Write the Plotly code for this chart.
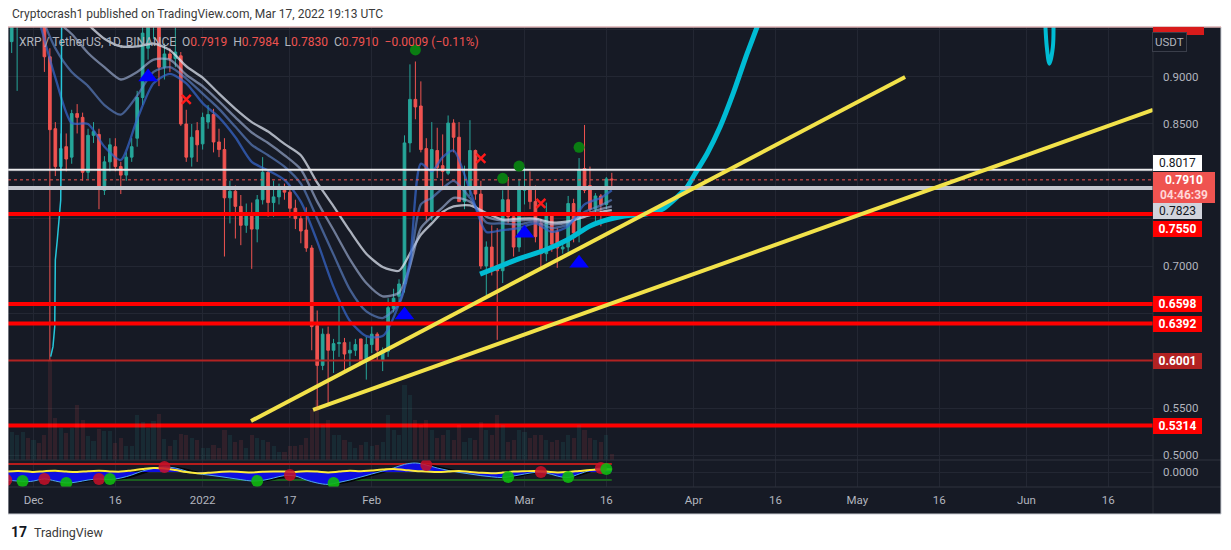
import pandas as pd
import plotly.graph_objects as go

start = pd.Timestamp("2021-12-01")

# XRP / TetherUS 1D Binance, candles by day offset from Dec 1 2021 (Nov 27 .. Mar 17)
candle_day = list(range(-4, 107))
opens = [0.937, 0.955, 0.990, 1.000, 0.975, 1.000, 0.985, 0.921, 0.845, 0.805, 0.826, 0.815, 0.861, 0.857, 0.799,
         0.838, 0.839, 0.780, 0.810, 0.826, 0.805, 0.796, 0.815, 0.835, 0.878, 0.930, 0.955, 0.990, 0.910, 0.924,
         0.919, 0.922, 0.850, 0.815, 0.843, 0.829, 0.852, 0.860, 0.831, 0.823, 0.772, 0.779, 0.763, 0.743, 0.753,
         0.739, 0.770, 0.799, 0.767, 0.773, 0.780, 0.778, 0.761, 0.750, 0.738, 0.719, 0.637, 0.595, 0.628, 0.611,
         0.618, 0.619, 0.608, 0.611, 0.623, 0.599, 0.617, 0.628, 0.600, 0.610, 0.655, 0.668, 0.681, 0.830, 0.876,
         0.869, 0.824, 0.757, 0.822, 0.806, 0.798, 0.851, 0.836, 0.768, 0.784, 0.822, 0.776, 0.700, 0.720, 0.700,
         0.695, 0.770, 0.752, 0.720, 0.780, 0.784, 0.768, 0.745, 0.713, 0.754, 0.736, 0.718, 0.720, 0.766, 0.735,
         0.803, 0.785, 0.760, 0.774, 0.765, 0.7919]
highs = [1.000, 1.000, 1.030, 1.020, 1.040, 1.010, 0.995, 0.930, 0.852, 0.840, 0.840, 0.865, 0.871, 0.862, 0.845,
         0.852, 0.845, 0.816, 0.835, 0.835, 0.810, 0.820, 0.835, 0.885, 0.953, 0.990, 1.000, 1.000, 0.935, 0.930,
         0.952, 0.926, 0.865, 0.850, 0.852, 0.862, 0.870, 0.866, 0.845, 0.835, 0.790, 0.785, 0.775, 0.766, 0.767,
         0.775, 0.815, 0.802, 0.790, 0.787, 0.787, 0.785, 0.770, 0.757, 0.762, 0.722, 0.653, 0.634, 0.636, 0.623,
         0.658, 0.624, 0.620, 0.623, 0.623, 0.625, 0.636, 0.630, 0.614, 0.666, 0.676, 0.686, 0.838, 0.913, 0.916,
         0.895, 0.835, 0.852, 0.846, 0.839, 0.859, 0.855, 0.852, 0.806, 0.854, 0.823, 0.790, 0.726, 0.743, 0.740,
         0.780, 0.794, 0.755, 0.792, 0.804, 0.800, 0.785, 0.750, 0.767, 0.755, 0.740, 0.725, 0.774, 0.771, 0.814,
         0.849, 0.805, 0.777, 0.776, 0.794, 0.7984]
lows = [0.925, 0.885, 0.965, 0.960, 0.965, 0.955, 0.905, 0.600, 0.795, 0.790, 0.800, 0.808, 0.840, 0.790, 0.792,
        0.830, 0.760, 0.775, 0.800, 0.800, 0.776, 0.790, 0.810, 0.826, 0.870, 0.918, 0.940, 0.890, 0.897, 0.905,
        0.910, 0.848, 0.810, 0.805, 0.810, 0.823, 0.845, 0.820, 0.815, 0.710, 0.745, 0.729, 0.722, 0.735, 0.697,
        0.725, 0.765, 0.752, 0.752, 0.765, 0.770, 0.751, 0.739, 0.724, 0.715, 0.611, 0.551, 0.590, 0.553, 0.587,
        0.604, 0.590, 0.594, 0.605, 0.597, 0.580, 0.608, 0.600, 0.589, 0.604, 0.651, 0.661, 0.672, 0.820, 0.855,
        0.820, 0.748, 0.748, 0.793, 0.780, 0.796, 0.820, 0.768, 0.760, 0.774, 0.770, 0.697, 0.669, 0.690, 0.622,
        0.682, 0.745, 0.710, 0.715, 0.765, 0.760, 0.725, 0.696, 0.705, 0.715, 0.698, 0.713, 0.715, 0.725, 0.725,
        0.777, 0.755, 0.745, 0.742, 0.760, 0.7830]
closes = [0.985, 0.990, 1.000, 0.975, 1.000, 0.985, 0.921, 0.844, 0.805, 0.824, 0.813, 0.861, 0.857, 0.799, 0.838,
          0.842, 0.782, 0.810, 0.828, 0.805, 0.796, 0.815, 0.826, 0.878, 0.946, 0.975, 0.990, 0.910, 0.924, 0.919,
          0.926, 0.850, 0.815, 0.836, 0.828, 0.857, 0.860, 0.831, 0.823, 0.772, 0.779, 0.763, 0.743, 0.753, 0.739,
          0.770, 0.799, 0.767, 0.773, 0.780, 0.778, 0.761, 0.750, 0.737, 0.719, 0.636, 0.595, 0.628, 0.611, 0.618,
          0.619, 0.607, 0.611, 0.617, 0.598, 0.617, 0.628, 0.611, 0.611, 0.656, 0.666, 0.681, 0.830, 0.876, 0.868,
          0.823, 0.757, 0.823, 0.804, 0.800, 0.851, 0.836, 0.768, 0.784, 0.822, 0.776, 0.700, 0.720, 0.695, 0.695,
          0.770, 0.752, 0.720, 0.781, 0.784, 0.768, 0.731, 0.713, 0.754, 0.723, 0.719, 0.720, 0.766, 0.735, 0.802,
          0.780, 0.760, 0.774, 0.765, 0.792, 0.7910]
volume = [28, 25, 28, 22, 20, 17, 25, 100, 42, 32, 27, 32, 55, 40, 24, 19, 31, 29, 29, 17, 22, 14, 14, 45, 38,
          32, 39, 46, 21, 14, 20, 26, 25, 22, 20, 12, 12,
          15, 12, 30, 25, 18, 20, 12, 25, 22, 20, 18, 14, 8, 8, 14, 14, 15, 22,
          50, 60, 35, 40, 25, 25,
          20, 18, 12, 15, 18, 14, 15, 18, 45, 30, 25,
          75, 65, 40, 35, 40, 30,
          22, 25, 30, 20, 35, 18, 22, 20,
          38, 30, 25, 45, 35, 18, 20, 30,
          28, 22, 25, 25, 20, 18, 20, 18, 25, 22, 35, 30, 22, 20, 18, 25, 6]

# moving-average ribbon (slow/light -> fast/dark)
ribbon_day = [1, 4, 7, 10, 13, 16, 19, 22, 25, 28, 31, 34, 37, 40, 43, 46, 49, 52, 55, 58, 61, 64, 67, 69, 71,
              73, 75, 77, 80, 83, 86, 89, 92, 95, 98, 101, 104, 106]
ribbon_slow = [0.990, 0.980, 0.970, 0.955, 0.940, 0.932, 0.932, 0.935, 0.928, 0.911, 0.899, 0.882, 0.866, 0.852,
               0.842, 0.829, 0.817, 0.788, 0.763, 0.737, 0.713, 0.699, 0.695, 0.713, 0.733, 0.745, 0.757, 0.763,
               0.764, 0.756, 0.749, 0.750, 0.750, 0.746, 0.747, 0.752, 0.757, 0.759]
ribbon_mid1 = [0.980, 0.960, 0.945, 0.925, 0.910, 0.897, 0.905, 0.918, 0.918, 0.902, 0.890, 0.874, 0.857, 0.841,
               0.830, 0.817, 0.802, 0.768, 0.738, 0.707, 0.682, 0.668, 0.672, 0.700, 0.740, 0.752, 0.762, 0.772,
               0.768, 0.752, 0.748, 0.748, 0.749, 0.744, 0.746, 0.754, 0.760, 0.763]
ribbon_mid2 = [0.970, 0.930, 0.905, 0.890, 0.870, 0.860, 0.880, 0.905, 0.910, 0.898, 0.882, 0.866, 0.847, 0.828,
               0.817, 0.805, 0.787, 0.750, 0.712, 0.675, 0.652, 0.645, 0.660, 0.700, 0.765, 0.772, 0.782, 0.790,
               0.772, 0.746, 0.745, 0.744, 0.747, 0.740, 0.744, 0.757, 0.764, 0.770]
ribbon_fast = [0.960, 0.899, 0.851, 0.850, 0.826, 0.812, 0.855, 0.893, 0.903, 0.893, 0.872, 0.857, 0.836, 0.810,
               0.801, 0.791, 0.768, 0.726, 0.678, 0.642, 0.626, 0.626, 0.660, 0.706, 0.808, 0.800, 0.815, 0.822,
               0.780, 0.736, 0.738, 0.740, 0.745, 0.736, 0.742, 0.765, 0.772, 0.780]

# cyan curves
cyan1_day = [3.15, 3.57, 3.89, 3.89, 4.0, 4.36, 4.80, 4.99, 5.10, 5.15]
cyan1_price = [0.6042, 0.6148, 0.6359, 0.6820, 0.7063, 0.7275, 0.7557, 0.7697, 0.8542, 0.9525]
cyan2_day = [81.85, 84.60, 89.18, 93.77, 97.99, 102.02, 105.68, 109.35, 112.47, 115.40, 117.96, 119.80, 121.26,
             123.46, 125.84, 128.23, 130.79, 132.63, 133.55]
cyan2_price = [0.6915, 0.6976, 0.7081, 0.7169, 0.7280, 0.7423, 0.7496, 0.7536, 0.7552, 0.7605, 0.7729, 0.7834,
               0.7975, 0.8186, 0.8468, 0.8820, 0.9243, 0.9525, 0.9683]
cyan3_day = [185.43, 185.74, 186.22, 186.84, 186.95]
cyan3_price = [0.960, 0.931, 0.9137, 0.931, 0.960]

# trend lines (two anchor points each)
trend1_day = [39.87, 159.76]
trend1_price = [0.5363, 0.8996]
trend2_day = [51.24, 205.2]
trend2_price = [0.5479, 0.8648]

# horizontal levels
levels = [0.8017, 0.7823, 0.7910, 0.7550, 0.6598, 0.6392, 0.6001, 0.5314]

# signals
tri_day = [21, 68, 90, 100]
tri_price = [0.8997, 0.6482, 0.7345, 0.7028]
gdot_day = [70, 86, 89, 100]
gdot_price = [0.9282, 0.7926, 0.8056, 0.8254]
xmark_day = [28, 82, 93]
xmark_price = [0.8761, 0.8138, 0.7662]

# oscillator pane
osc_day = [-5, -3, -1, 0, 2, 4, 6, 8, 10, 12, 14, 16, 18, 20, 22, 24, 26, 28, 30, 32, 34, 36, 38, 40, 42, 44, 46,
           48, 50, 52, 54, 56, 58, 60, 62, 64, 66, 68, 70, 72, 74, 76, 78, 80, 82, 84, 86, 88, 90, 92, 94, 96, 98,
           100, 102, 104, 106]
osc_wt1 = [-40, -45, -48, -45, -35, -45, -55, -50, -40, -35, -38, -30, -15, 5, 18, 25, 20, 5, -8, -15, -22, -30,
           -38, -45, -42, -30, -18, -20, -40, -55, -62, -52, -40, -25, -10, 5, 20, 38, 45, 35, 20, 8, -2, -10, -18,
           -24, -28, -20, -10, -2, -5, -20, -28, -10, 8, 20, 15]
osc_wt2 = [-42, -42, -44, -43, -37, -40, -50, -52, -45, -36, -36, -35, -25, -8, 10, 24, 24, 14, 0, -10, -17, -25,
           -33, -42, -45, -38, -25, -17, -28, -47, -58, -58, -48, -34, -18, -3, 12, 28, 40, 38, 28, 15, 4, -5, -13,
           -20, -26, -25, -16, -4, 0, -12, -26, -18, 0, 18, 18]
osc_yellow = [2, 5, 3, 0, 4, 6, 2, 0, 4, 6, 3, 2, 8, 15, 20, 18, 10, 0, -6, -4, 0, 2, 0, -2, 1, 3, 2, 0, 4, 2, -2,
              2, 6, 4, 8, 12, 15, 10, 5, 3, 0, 2, 5, 0, -4, -6, -3, 2, 4, 5, 2, -2, 0, 5, 10, 12, 12]
osc_red_day = [-5, 2, 12, 24, 47, 72, 93, 104]
osc_red_val = [-40, -35, -35, 25, -15, 35, 0, 20]
osc_green_day = [-2, 6, 14, 41, 55, 87, 98, 105]
osc_green_val = [-45, -55, -35, -45, -55, -25, -25, 15]
osc_ob, osc_os = 40, -40

tick_dates = ["2021-12-01", "2021-12-16", "2022-01-01", "2022-01-17", "2022-02-01", "2022-03-01", "2022-03-16",
              "2022-04-01", "2022-04-16", "2022-05-01", "2022-05-16", "2022-06-01", "2022-06-16"]
tick_text = ["Dec", "16", "2022", "17", "Feb", "Mar", "16", "Apr", "16", "May", "16", "Jun", "16"]
price_ticks = [0.50, 0.55, 0.60, 0.65, 0.70, 0.75, 0.80, 0.85, 0.90, 0.95]
price_text = ["0.5000", "0.5500", "", "", "0.7000", "", "", "0.8500", "0.9000", ""]


def day(d):
    return start + pd.to_timedelta(d, unit="D")


view_from, view_to = -4.675, 205.2
xr = [str(day(view_from)), str(day(view_to))]
UP, DOWN = "#26a69a", "#ef5350"
BG = "#161a25"
GRID = "#232733"
osc_top = 27 / 460

dates = day(candle_day)
fig = go.Figure()

vol_col = ["rgba(38,166,154,0.12)" if c >= o else "rgba(239,83,80,0.12)" for o, c in zip(opens, closes)]
fig.add_trace(go.Bar(x=dates, y=volume, marker=dict(color=vol_col, line_width=0), width=0.75 * 86400000,
                     yaxis="y3", xaxis="x"))

fig.add_trace(go.Candlestick(x=dates, open=opens, high=highs, low=lows, close=closes,
                             increasing=dict(line=dict(color=UP, width=1), fillcolor=UP),
                             decreasing=dict(line=dict(color=DOWN, width=1), fillcolor=DOWN),
                             whiskerwidth=0, xaxis="x", yaxis="y"))

rib_style = [("rgba(222,228,240,0.75)", 2.3), ("rgba(170,188,228,0.60)", 2.3),
             ("rgba(100,140,215,0.60)", 2.3), ("rgba(55,105,210,0.70)", 2.3)]
for vals, (col, w) in zip([ribbon_slow, ribbon_mid1, ribbon_mid2, ribbon_fast], rib_style):
    fig.add_trace(go.Scatter(x=day(ribbon_day), y=vals, mode="lines",
                             line=dict(color=col, width=w, shape="spline", smoothing=0.7)))

fig.add_trace(go.Scatter(x=day(cyan1_day), y=cyan1_price, mode="lines", line=dict(color="#26c6da", width=1.5)))
fig.add_trace(go.Scatter(x=day(cyan2_day), y=cyan2_price, mode="lines",
                         line=dict(color="#00bcd4", width=5, shape="spline", smoothing=0.6)))
fig.add_trace(go.Scatter(x=day(cyan3_day), y=cyan3_price, mode="lines",
                         line=dict(color="#00bcd4", width=4, shape="spline")))

lvl_style = {0.8017: ("#ececee", 2, "solid"), 0.7823: ("#c3c6ce", 4, "solid"), 0.7910: ("#ef5350", 1, "dot"),
             0.7550: ("#ff0000", 4, "solid"), 0.6598: ("#ff0000", 4, "solid"), 0.6392: ("#ff0000", 4, "solid"),
             0.6001: ("#b22222", 2, "solid"), 0.5314: ("#ff0000", 4, "solid")}
for lv in levels:
    col, w, dash = lvl_style[lv]
    fig.add_trace(go.Scatter(x=xr, y=[lv, lv], mode="lines", line=dict(color=col, width=w, dash=dash)))

for dd, pp in [(trend1_day, trend1_price), (trend2_day, trend2_price)]:
    fig.add_trace(go.Scatter(x=day(dd), y=pp, mode="lines", line=dict(color="#f2e24a", width=4)))

fig.add_trace(go.Scatter(x=day(tri_day), y=tri_price, mode="markers",
                         marker=dict(symbol="triangle-up", size=17, color="#0000ff", line_width=0)))
fig.add_trace(go.Scatter(x=day(gdot_day), y=gdot_price, mode="markers",
                         marker=dict(symbol="circle", size=11, color="#0a7d12", line_width=0)))
fig.add_trace(go.Scatter(x=day(xmark_day), y=xmark_price, mode="markers",
                         marker=dict(symbol="x-thin", size=9, line=dict(color="#ff1a1a", width=2.5))))

# oscillator
osc_x = day(osc_day)
fig.add_trace(go.Scatter(x=[str(day(view_from)), str(day(106))], y=[osc_ob, osc_ob], mode="lines",
                         line=dict(color="#b71c1c", width=2), xaxis="x2", yaxis="y2"))
fig.add_trace(go.Scatter(x=[str(day(14)), str(day(106))], y=[osc_os, osc_os], mode="lines",
                         line=dict(color="#1b5e20", width=2), xaxis="x2", yaxis="y2"))
fig.add_trace(go.Scatter(x=osc_x, y=osc_wt2, mode="lines", fill="tozeroy", fillcolor="rgba(0,0,0,0.85)",
                         line=dict(color="rgba(0,0,0,0.9)", width=1, shape="spline"), xaxis="x2", yaxis="y2"))
fig.add_trace(go.Scatter(x=osc_x, y=osc_wt1, mode="lines", fill="tozeroy", fillcolor="rgba(15,15,250,0.9)",
                         line=dict(color="#4fa8e8", width=1, shape="spline"), xaxis="x2", yaxis="y2"))
fig.add_trace(go.Scatter(x=osc_x, y=osc_yellow, mode="lines",
                         line=dict(color="#ffeb3b", width=2, shape="spline"), xaxis="x2", yaxis="y2"))
fig.add_trace(go.Scatter(x=day(osc_red_day), y=osc_red_val, mode="markers",
                         marker=dict(size=12, color="rgba(200,16,40,0.85)"), xaxis="x2", yaxis="y2"))
fig.add_trace(go.Scatter(x=day(osc_green_day), y=osc_green_val, mode="markers",
                         marker=dict(size=12, color="rgba(16,185,16,0.9)"), xaxis="x2", yaxis="y2"))


# page pixel -> paper coords (plot area spans page x 8..1153, y 27..487; page body adds an 8px offset)
def px_x(x):
    return (x - 8) / 1145


def px_y(y):
    return (487 - y) / 460


right_edge = px_x(1221)
bottom_edge = px_y(514)

shapes = [
    dict(type="rect", xref="paper", yref="paper", x0=0, x1=right_edge, y0=bottom_edge, y1=1,
         fillcolor=BG, line_width=0, layer="below"),
    dict(type="line", xref="paper", yref="paper", x0=1, x1=1, y0=bottom_edge, y1=1,
         line=dict(color="#2a2e39", width=1)),
    dict(type="line", xref="paper", yref="paper", x0=0, x1=right_edge, y0=osc_top, y1=osc_top,
         line=dict(color="#2e323e", width=1)),
    dict(type="line", xref="paper", yref="paper", x0=0, x1=right_edge, y0=0, y1=0,
         line=dict(color="#2e323e", width=1)),
    dict(type="rect", xref="paper", yref="paper", x0=0, x1=right_edge, y0=bottom_edge, y1=1,
         line=dict(color="#c9ccd3", width=1), fillcolor="rgba(0,0,0,0)"),
    dict(type="line", xref="paper", yref="paper", x0=0, x1=right_edge, y0=1, y1=1,
         line=dict(color="#e3a2a2", width=1)),
    dict(type="rect", xref="paper", yref="paper", x0=1, x1=px_x(1204), y0=px_y(35), y1=1,
         fillcolor="#d81b1b", line_width=0),
]

label_style = [
    (0.8017, "0.8017", "#ffffff", "#131722", 7, 14, 47),
    (0.7910, "<b>0.7910</b><br><span style='color:#ffd6d6'><b>04:46:39</b></span>", "#ef5350", "#ffffff", -7.6, 29, 60),
    (0.7823, "0.7823", "#d1d4dc", "#131722", -23, 14, 47),
    (0.7550, "<b>0.7550</b>", "#ff0000", "#ffffff", -14.6, 14, 47),
    (0.6598, "<b>0.6598</b>", "#ff0000", "#ffffff", 0, 14, 47),
    (0.6392, "<b>0.6392</b>", "#ff0000", "#ffffff", 0, 14, 47),
    (0.6001, "<b>0.6001</b>", "#b22222", "#ffffff", 0, 14, 47),
    (0.5314, "<b>0.5314</b>", "#ff0000", "#ffffff", 0, 14, 47),
]
annotations = []
for lv, txt, bg, fc, ys, h, w in label_style:
    annotations.append(dict(x=1, xref="paper", xanchor="left", y=lv, yref="y", yanchor="middle", yshift=ys,
                            text=txt, showarrow=False, bgcolor=bg, font=dict(color=fc, size=12, family="Roboto"),
                            width=w, height=h, borderpad=1, borderwidth=0, align="center"))

annotations.append(dict(x=px_x(1187), xref="paper", y=px_y(42), yref="paper", yanchor="middle", text="USDT",
                        showarrow=False, font=dict(color="#b2b5be", size=11.5, family="Roboto"), bgcolor=BG,
                        bordercolor="#3a3e4a", borderwidth=1, borderpad=2))

nb = "\u00a0"
g, r = "#b2b5be", "#ef5350"
legend = (f"<span style='color:{g}'>XRP / TetherUS, 1D, BINANCE</span>{nb}{nb}"
          f"<span style='color:{g}'>O</span><span style='color:{r}'>0.7919</span>{nb}{nb}"
          f"<span style='color:{g}'>H</span><span style='color:{r}'>0.7984</span>{nb}{nb}"
          f"<span style='color:{g}'>L</span><span style='color:{r}'>0.7830</span>{nb}{nb}"
          f"<span style='color:{g}'>C</span><span style='color:{r}'>0.7910</span>{nb}{nb}"
          f"<span style='color:{r}'>−0.0009 (−0.11%)</span>")
annotations.append(dict(x=px_x(17), xref="paper", xanchor="left", y=px_y(42), yref="paper", yanchor="middle",
                        text=legend, showarrow=False, font=dict(size=12, family="Roboto")))
annotations.append(dict(x=px_x(10), xref="paper", xanchor="left", y=px_y(14), yref="paper", yanchor="middle",
                        text="Cryptocrash1 published on TradingView.com, Mar 17, 2022 19:13 UTC",
                        showarrow=False, font=dict(size=12, color="#3a3a3a", family="Roboto")))
annotations.append(dict(x=px_x(9), xref="paper", xanchor="left", y=px_y(532), yref="paper", yanchor="middle",
                        text="<b>17</b>", showarrow=False, font=dict(size=14, color="#131722", family="Roboto")))
annotations.append(dict(x=px_x(32), xref="paper", xanchor="left", y=px_y(532), yref="paper", yanchor="middle",
                        text="TradingView", showarrow=False, font=dict(size=12.5, color="#3a3a3a", family="Roboto")))

# figure is 8px smaller each way: the page body margin shifts it by 8px
fig.update_layout(
    width=1223, height=542,
    margin=dict(l=0, r=78, t=19, b=63, pad=0, autoexpand=False),
    paper_bgcolor="white", plot_bgcolor=BG,
    showlegend=False, bargap=0,
    font=dict(family="Roboto, sans-serif", size=11, color="#b2b5be"),
    xaxis=dict(domain=[0, 1], anchor="y", type="date", range=xr, showticklabels=False, tickvals=tick_dates,
               showgrid=True, gridcolor=GRID, zeroline=False, ticks="", rangeslider=dict(visible=False),
               automargin=False),
    xaxis2=dict(domain=[0, 1], anchor="y2", type="date", range=xr, matches="x", tickvals=tick_dates,
                ticktext=tick_text, showgrid=True, gridcolor=GRID, zeroline=False, ticks="",
                tickfont=dict(size=11.5, color="#b2b5be"), ticklabelstandoff=4, automargin=False),
    yaxis=dict(domain=[osc_top, 1], anchor="x", side="right", range=[0.49508, 0.95245],
               tickvals=price_ticks, ticktext=price_text, showgrid=True, gridcolor=GRID, zeroline=False,
               ticks="", ticklabelstandoff=9, tickfont=dict(size=11.5, color="#b2b5be"), automargin=False),
    yaxis2=dict(domain=[0, osc_top], anchor="x2", side="right", range=[-75, 60], tickvals=[0],
                ticktext=["0.0000"], showgrid=True, gridcolor=GRID, zeroline=False, ticks="",
                ticklabelstandoff=9, tickfont=dict(size=11.5, color="#b2b5be"), automargin=False),
    yaxis3=dict(overlaying="y", range=[0, 433], visible=False),
    shapes=shapes,
    annotations=annotations,
)

fig.write_html("out.html")
